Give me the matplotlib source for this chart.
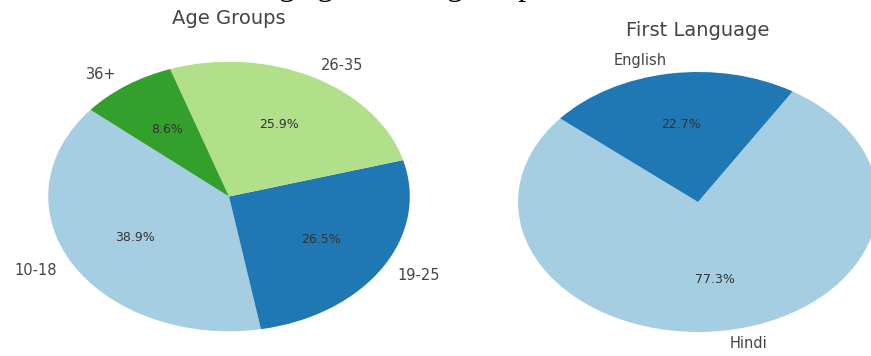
import matplotlib.pyplot as plt

# Survey breakdowns
age_labels = ["10-18", "19-25", "26-35", "36+"]
age_share = [38.9, 26.5, 25.9, 8.6]

lang_labels = ["Hindi", "English"]
lang_share = [77.3, 22.7]

paired = plt.get_cmap("Paired").colors
age_colors = [paired[0], paired[1], paired[2], paired[3]]
lang_colors = [paired[0], paired[1]]

fig = plt.figure(figsize=(8.71, 3.56), dpi=100)

# leftover line of the surrounding page text, mostly cut off at the top
fig.text(0.302, 1.0 + 5 / 356, "ng ages, among the p", family="Liberation Serif",
         fontsize=23, color="black", ha="left", va="baseline")


def draw_pie(rect, values, labels, colors, title):
    ax = fig.add_axes(rect)
    ax.pie(values, labels=labels, colors=colors, autopct="%1.1f%%", startangle=140,
           labeldistance=1.1, pctdistance=0.6,
           textprops={"fontsize": 10.5, "color": "#444444"})
    for t in ax.texts:
        if t.get_text().endswith("%"):
            t.set_fontsize(9)
            t.set_color("#333333")
    ax.set_aspect("auto")
    ax.set_xlim(-1.25, 1.25)
    ax.set_ylim(-1.25, 1.25)
    ax.text(0, 1.32, title, ha="center", va="center", fontsize=14, color="#444444")
    return ax


# axes rectangles in figure fractions (pies are stretched wide)
draw_pie([3 / 871, -9 / 356, 452 / 871, 337 / 356], age_share, age_labels, age_colors, "Age Groups")
draw_pie([473 / 871, -8.5 / 356, 450 / 871, 325 / 356], lang_share, lang_labels, lang_colors, "First Language")

fig.savefig("out.png", dpi=100)
